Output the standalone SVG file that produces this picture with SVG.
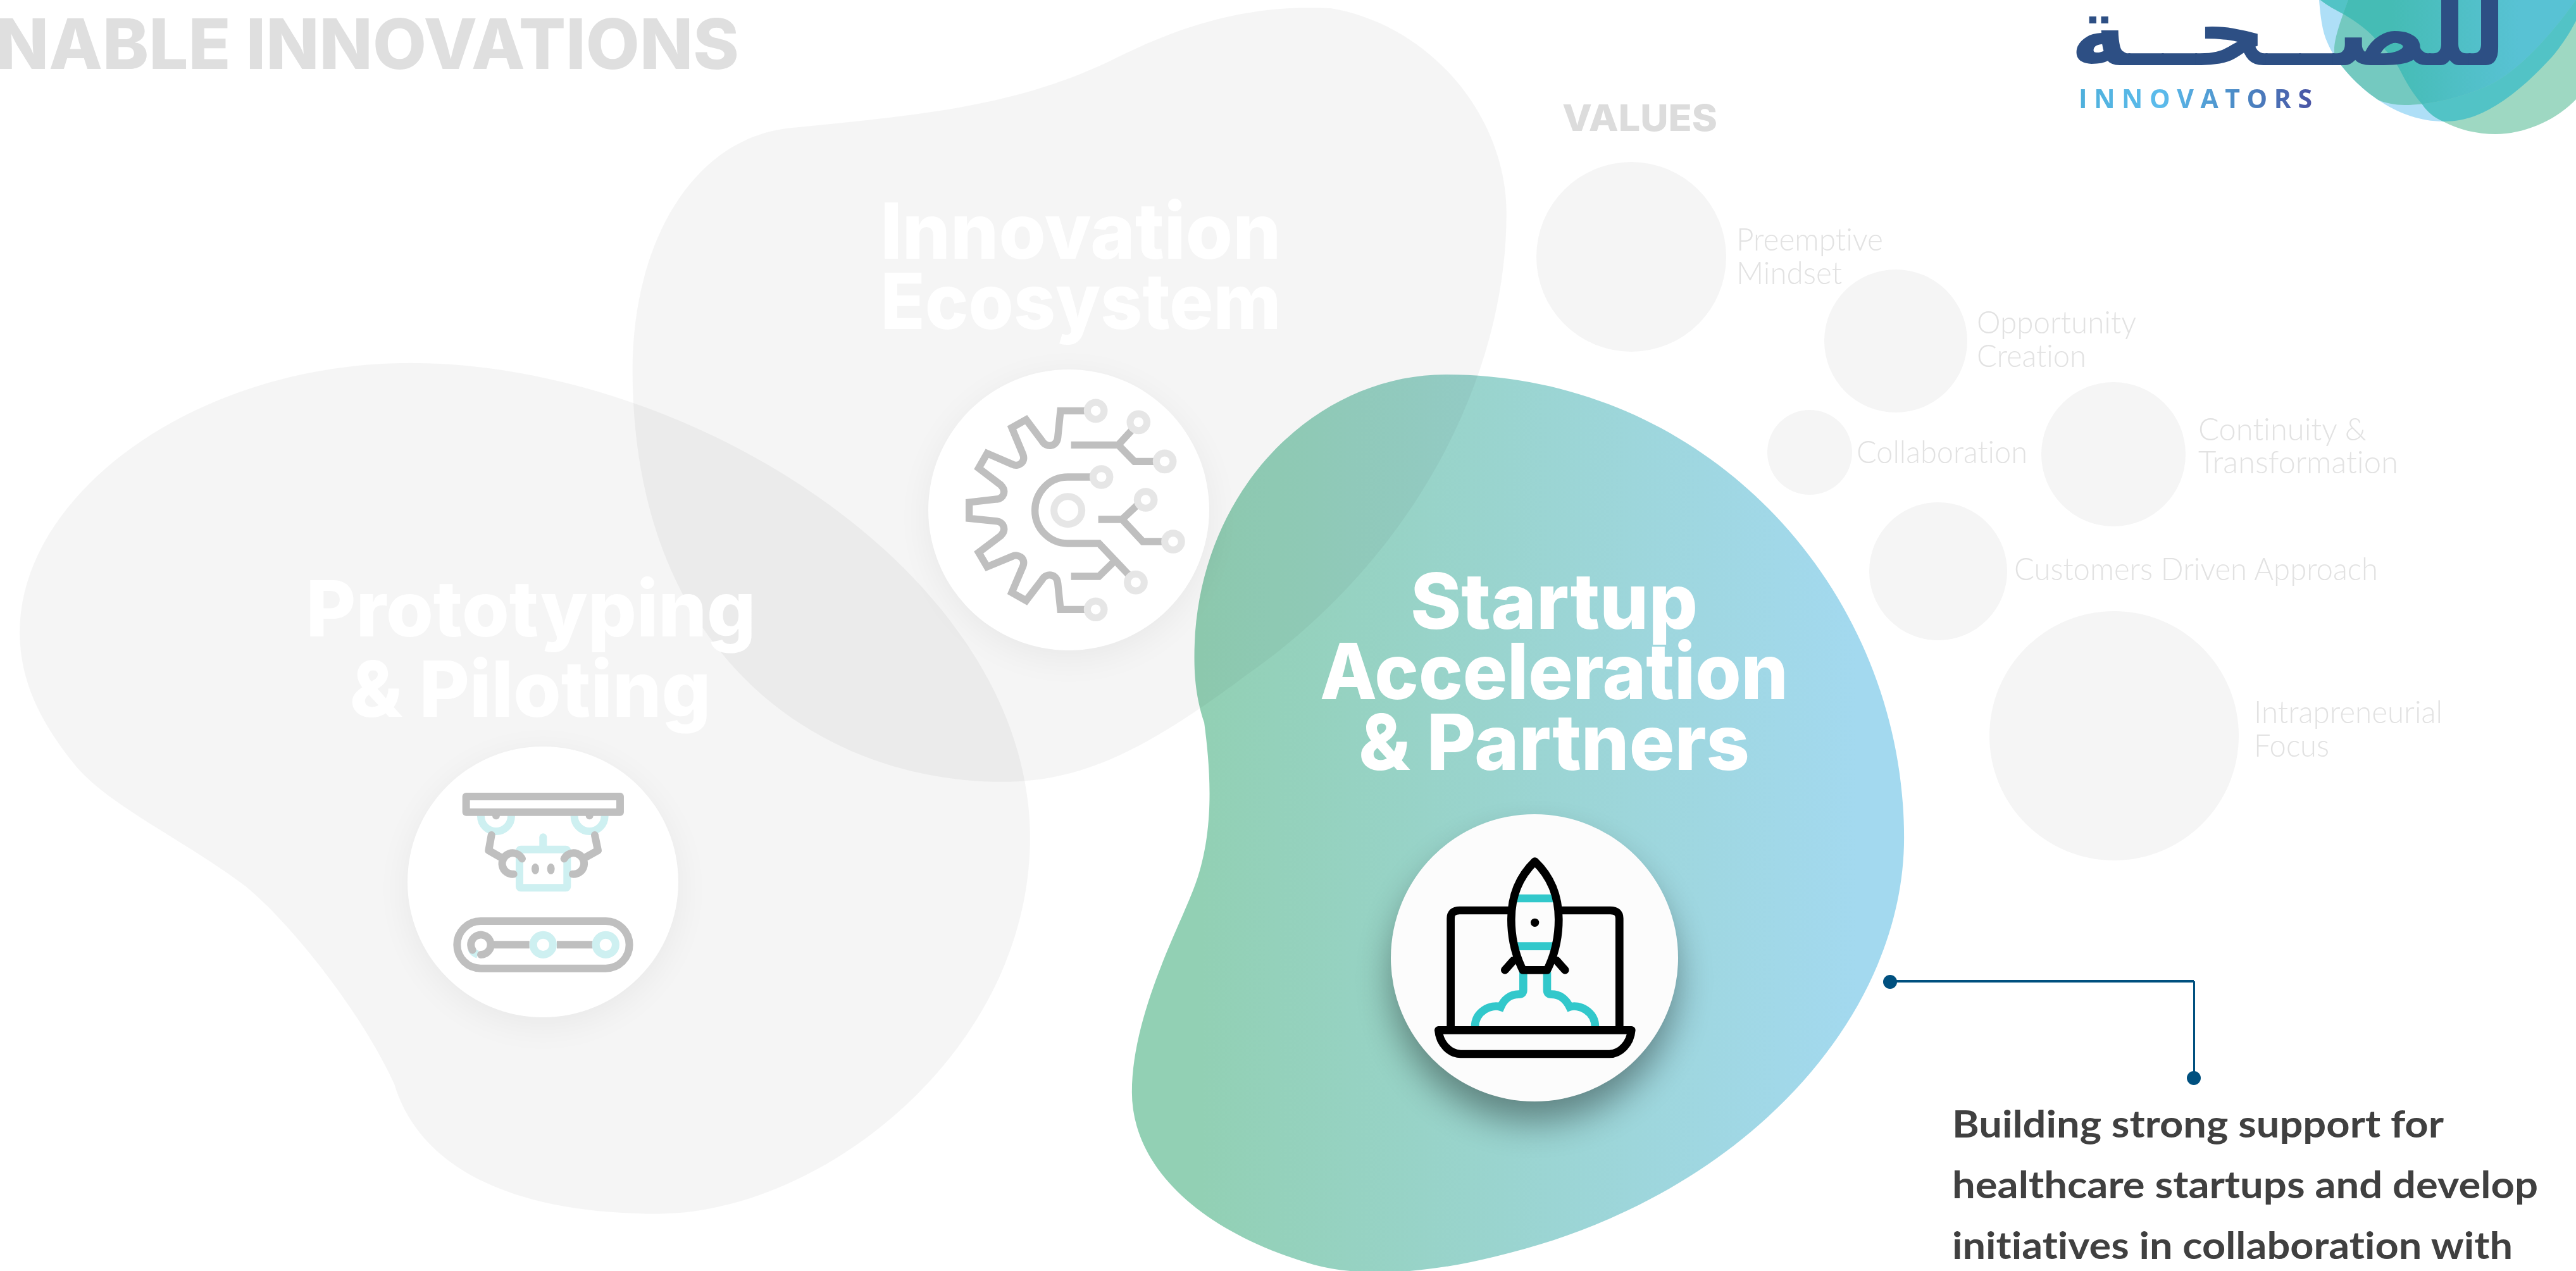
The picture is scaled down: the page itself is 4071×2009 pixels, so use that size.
<svg xmlns="http://www.w3.org/2000/svg" width="4071" height="2009" viewBox="0 0 4071 2009">
<style>
.blob{fill:#000;fill-opacity:.04}
.disc{fill:#fff}
.title{font-family:"Inter","Liberation Sans",sans-serif;font-weight:800;font-size:122px;fill:#fff;text-anchor:middle}
.val{font-family:"Lato","Open Sans",sans-serif;font-weight:300;font-size:50px;fill:#e2e2e2;font-variant-ligatures:none}
.bubble{fill:#f5f5f5}
.body{font-family:"Lato","Liberation Sans",sans-serif;font-weight:700;font-size:60px;fill:#404040;font-variant-ligatures:none}
.g{fill:none;stroke:#bfbfbf;stroke-width:34}
.r{stroke-linecap:round;stroke-linejoin:round}
.n{fill:#fff;stroke:#e6e6e6;stroke-width:33}
.p{fill:none;stroke:#cef0f1;stroke-width:36}
.k{fill:none;stroke:#000;stroke-width:38;stroke-linecap:round;stroke-linejoin:round}
.t{fill:none;stroke:#32c8cb;stroke-width:38}
.cn{fill:none;stroke:#00507f}
</style>
<defs>
<linearGradient id="gr" gradientUnits="userSpaceOnUse" x1="730" y1="0" x2="1130" y2="0"><stop offset="0" stop-color="#92d0b4"/><stop offset="1" stop-color="#a3d9ef"/></linearGradient>
<linearGradient id="ig" gradientUnits="userSpaceOnUse" x1="3286" y1="0" x2="3653" y2="0"><stop offset="0" stop-color="#4fb0dc"/><stop offset=".35" stop-color="#5cbcec"/><stop offset=".7" stop-color="#4b88c4"/><stop offset="1" stop-color="#4a55a5"/></linearGradient>
<linearGradient id="lg" gradientUnits="userSpaceOnUse" x1="3780" y1="0" x2="3980" y2="0"><stop offset="0" stop-color="#45bcb5"/><stop offset="1" stop-color="#58c2d4"/></linearGradient>
<filter id="s1" x="-30%" y="-30%" width="160%" height="170%"><feGaussianBlur stdDeviation="28"/></filter>
<clipPath id="ca"><path d="M3665,0C3667,25 3670,50 3678,67C3695,110 3770,192 3861,192C3900,192 3925,178 3944,167C3980,145 4010,115 4033,90C4050,70 4062,50 4071,33V0Z"/></clipPath>
<clipPath id="cc"><path d="M3667,0C3680,10 3690,15 3703,22C3725,35 3745,50 3755,63C3775,85 3785,95 3794,113C3805,135 3815,150 3828,165C3838,180 3850,187 3861,192C3885,205 3915,212 3944,212C3990,212 4040,190 4071,157V0Z"/></clipPath>
</defs>
<rect width="4071" height="2009" fill="#fff"/>

<text x="1168" y="109" font-family="Inter,'Liberation Sans',sans-serif" font-weight="800" font-size="110" fill="#dfdfdf" text-anchor="end" textLength="1175" lengthAdjust="spacingAndGlyphs">NABLE INNOVATIONS</text>

<g id="innovation-ecosystem">
<path class="blob" transform="scale(2.5963)" d="M385,225C385,150 420,85 480,78C560,70 620,65 680,35C730,10 770,3 810,5C870,15 917,70 917,130C917,230 860,340 760,410C700,455 660,476 610,476C500,476 385,400 385,225Z"/>
</g>
<g id="prototyping-piloting">
<path class="blob" transform="scale(2.5963)" d="M12,385C12,300 120,221 250,221C420,221 627,350 627,510C627,640 500,739 400,739C310,739 255,710 240,660C222,620 180,565 150,540C110,510 65,490 45,465C25,440 12,415 12,385Z"/>
</g>
<g id="innovation-content">
<circle cx="1689" cy="818" r="222" fill="#000" opacity=".05" filter="url(#s1)"/>
<circle class="disc" cx="1689" cy="806" r="222"/>
<g transform="translate(1430,560) scale(.3333)">
<path class="g" d="M870,268H738L725,395C720,440 670,445 650,410L575,310L507,348L560,475C575,515 535,535 510,522L390,470L350,540L455,620C485,650 465,685 437,687L305,702V778L437,792C465,795 485,830 455,860L350,940L390,1008L510,958C535,945 575,965 560,1005L507,1130L575,1168L650,1070C670,1035 720,1040 725,1085L738,1210H870"/>
<path class="g" d="M788,430H1012L1090,345M1012,430L1088,508H1200M895,582H772C680,582 617,660 617,740C617,830 690,897 772,897H920L1075,1060M788,1053H920L990,985M917,783H1030L1110,708M1030,783L1128,888H1240"/>
<circle class="n" cx="905" cy="268" r="40"/><circle class="n" cx="1108" cy="322" r="40"/><circle class="n" cx="1232" cy="508" r="40"/><circle class="n" cx="932" cy="582" r="40"/><circle class="n" cx="1142" cy="690" r="40"/><circle class="n" cx="1272" cy="888" r="40"/><circle class="n" cx="1095" cy="1082" r="40"/><circle class="n" cx="905" cy="1210" r="40"/><circle class="n" cx="773" cy="740" r="66"/>
</g>
<text class="title" x="1708" y="409" textLength="633" lengthAdjust="spacingAndGlyphs">Innovation</text>
<text class="title" x="1708" y="520" textLength="633" lengthAdjust="spacingAndGlyphs">Ecosystem</text>
</g>
<g id="prototyping-content">
<circle cx="858" cy="1406" r="214" fill="#000" opacity=".05" filter="url(#s1)"/>
<circle class="disc" cx="858" cy="1394" r="214"/>
<g transform="translate(620,1160) scale(.3333)">
<circle class="p" cx="492" cy="390" r="72"/><circle class="p" cx="935" cy="390" r="72"/>
<circle cx="492" cy="388" r="18" fill="#bfbfbf"/><circle cx="935" cy="388" r="18" fill="#bfbfbf"/>
<rect x="350" y="297" width="730" height="74" fill="#fff" stroke="#bfbfbf" stroke-width="36" stroke-linejoin="round"/>
<path class="p r" d="M715,490V535"/>
<rect x="603" y="548" width="226" height="182" rx="6" fill="#fff" stroke="#cef0f1" stroke-width="36"/>
<path class="g r" style="stroke-width:36" d="M470,480L457,553L525,592M960,480L975,553L905,592M615,592A50,50 0 1 0 575,665M815,592A50,50 0 1 1 855,665"/>
<ellipse cx="678" cy="640" rx="18" ry="26" fill="#bfbfbf"/><ellipse cx="752" cy="640" rx="18" ry="26" fill="#bfbfbf"/>
<rect x="307" y="888" width="817" height="224" rx="112" class="g" style="stroke-width:36"/>
<path class="g" style="stroke-width:36" d="M480,1000H650M780,1000H950"/>
<circle class="p" cx="715" cy="1000" r="47"/><circle class="p" cx="1012" cy="1000" r="47"/>
<path class="p" d="M375,1020A47,47 0 0 0 405,1046"/>
<path class="g r" style="stroke-width:36" d="M380,1025A47,47 0 1 1 420,1047"/>
</g>
<text class="title" x="839" y="1006" textLength="711" lengthAdjust="spacingAndGlyphs">Prototyping</text>
<text class="title" x="838" y="1133" textLength="571" lengthAdjust="spacingAndGlyphs">&amp; Piloting</text>
</g>
<g id="startup-acceleration">
<path style="mix-blend-mode:multiply" fill="url(#gr)" transform="scale(2.5963)" d="M727,400C727,300 800,228 880,228C1040,228 1159,360 1159,510C1159,620 1060,730 910,765C870,775 830,778 800,770C730,750 689,710 689,665C689,620 715,570 725,545C740,510 737,470 733,440C728,425 727,412 727,400Z"/>
<circle cx="2425" cy="1548" r="225" fill="#000" opacity=".38" filter="url(#s1)"/>
<circle cx="2425" cy="1514" r="227" fill="#fcfcfc"/>
<g transform="translate(2170,1270) scale(.3333)">
<path class="t" d="M712,800V885Q712,905 690,905C650,905 620,930 605,965C560,950 483,985 483,1060M825,800V885Q825,905 845,905C890,905 915,930 932,965C975,950 1053,985 1053,1060"/>
<path class="k" d="M368,1060V545Q368,507 410,507H640M895,507H1125Q1168,507 1168,545V1060"/>
<path class="k" style="fill:#fcfcfc" d="M310,1075H1225C1220,1140 1170,1188 1120,1188H415C365,1188 315,1140 310,1075Z"/>
<path class="k" d="M665,745L625,790M870,745L910,790"/>
<path d="M767,275C700,340 655,430 655,550C655,640 675,720 710,790H825C860,720 880,640 880,550C880,430 835,340 767,275Z" fill="#fcfcfc"/>
<path class="t" d="M675,450H860M672,677H860"/>
<path class="k" d="M767,275C700,340 655,430 655,550C655,640 675,720 710,790H825C860,720 880,640 880,550C880,430 835,340 767,275Z"/>
<circle cx="767" cy="565" r="20" fill="#000"/>
</g>
<text class="title" x="2456" y="994" textLength="454" lengthAdjust="spacingAndGlyphs">Startup</text>
<text class="title" x="2456" y="1105" textLength="740" lengthAdjust="spacingAndGlyphs">Acceleration</text>
<text class="title" x="2456" y="1217" textLength="618" lengthAdjust="spacingAndGlyphs">&amp; Partners</text>
</g>

<g id="values">
<text x="2469" y="207" font-family="Inter,'Liberation Sans',sans-serif" font-weight="800" font-size="58" fill="#dcdcdc" textLength="245" lengthAdjust="spacingAndGlyphs">VALUES</text>
</g>
<g id="value-preemptive"><circle class="bubble" cx="2578" cy="406" r="150"/><text class="val" x="2744" y="396" textLength="232" lengthAdjust="spacingAndGlyphs">Preemptive</text><text class="val" x="2744" y="449" textLength="167" lengthAdjust="spacingAndGlyphs">Mindset</text></g>
<g id="value-opportunity"><circle class="bubble" cx="2996" cy="539" r="113"/><text class="val" x="3124" y="527" textLength="252" lengthAdjust="spacingAndGlyphs">Opportunity</text><text class="val" x="3124" y="580" textLength="173" lengthAdjust="spacingAndGlyphs">Creation</text></g>
<g id="value-collaboration"><circle class="bubble" cx="2860" cy="715" r="67"/><text class="val" x="2934" y="732" textLength="270" lengthAdjust="spacingAndGlyphs">Collaboration</text></g>
<g id="value-continuity"><circle class="bubble" cx="3340" cy="718" r="114"/><text class="val" x="3474" y="696" textLength="266" lengthAdjust="spacingAndGlyphs">Continuity &amp;</text><text class="val" x="3474" y="748" textLength="316" lengthAdjust="spacingAndGlyphs">Transformation</text></g>
<g id="value-customers"><circle class="bubble" cx="3063" cy="903" r="109"/><text class="val" x="3183" y="917" textLength="575" lengthAdjust="spacingAndGlyphs">Customers Driven Approach</text></g>
<g id="value-intrapreneurial"><circle class="bubble" cx="3341" cy="1163" r="197"/><text class="val" x="3562" y="1143" textLength="298" lengthAdjust="spacingAndGlyphs">Intrapreneurial</text><text class="val" x="3562" y="1196" textLength="119" lengthAdjust="spacingAndGlyphs">Focus</text></g>

<g id="connectors">
<path class="cn" stroke-width="4" d="M2987,1551H3467"/>
<path class="cn" stroke-width="3" d="M3467.500,1551V1704"/>
<circle cx="2987" cy="1552" r="11" fill="#00507f"/><circle cx="3467" cy="1704" r="11" fill="#00507f"/>
</g>
<g id="description">
<text class="body" x="3085" y="1798" textLength="777" lengthAdjust="spacingAndGlyphs">Building strong support for</text>
<text class="body" x="3085" y="1894" textLength="926" lengthAdjust="spacingAndGlyphs">healthcare startups and develop</text>
<text class="body" x="3085" y="1990" textLength="886" lengthAdjust="spacingAndGlyphs">initiatives in collaboration with</text>
</g>

<g id="logo">
<path id="la" fill="#aedff7" d="M3665,0C3667,25 3670,50 3678,67C3695,110 3770,192 3861,192C3900,192 3925,178 3944,167C3980,145 4010,115 4033,90C4050,70 4062,50 4071,33V0Z"/>
<path id="lc" fill="#9ed8c2" d="M3667,0C3680,10 3690,15 3703,22C3725,35 3745,50 3755,63C3775,85 3785,95 3794,113C3805,135 3815,150 3828,165C3838,180 3850,187 3861,192C3885,205 3915,212 3944,212C3990,212 4040,190 4071,157V0Z"/>
<g clip-path="url(#ca)">
<path fill="#52c3c6" d="M3667,0C3680,10 3690,15 3703,22C3725,35 3745,50 3755,63C3775,85 3785,95 3794,113C3805,135 3815,150 3828,165C3838,180 3850,187 3861,192C3885,205 3915,212 3944,212C3990,212 4040,190 4071,157V0Z"/>
<path fill="#74c9c0" d="M3711,0C3700,30 3689,60 3689,78C3689,95 3690,100 3694,107C3710,135 3730,150 3755,157C3770,163 3785,166 3800,166C3840,166 3885,155 3922,140C3960,125 4010,85 4071,0Z"/>
<g clip-path="url(#cc)"><path fill="url(#lg)" d="M3711,0C3700,30 3689,60 3689,78C3689,95 3690,100 3694,107C3710,135 3730,150 3755,157C3770,163 3785,166 3800,166C3840,166 3885,155 3922,140C3960,125 4010,85 4071,0Z"/></g>
</g>
<text transform="translate(3961,103) scale(1.03,1)" direction="rtl" font-family="'DejaVu Sans',sans-serif" font-weight="700" font-size="150" fill="#2d4f84">للصــحــة</text>
<text x="3285" y="171" font-family="'Open Sans',sans-serif" font-weight="700" font-size="41" fill="url(#ig)" textLength="369" lengthAdjust="spacing">INNOVATORS</text>
</g>
</svg>
